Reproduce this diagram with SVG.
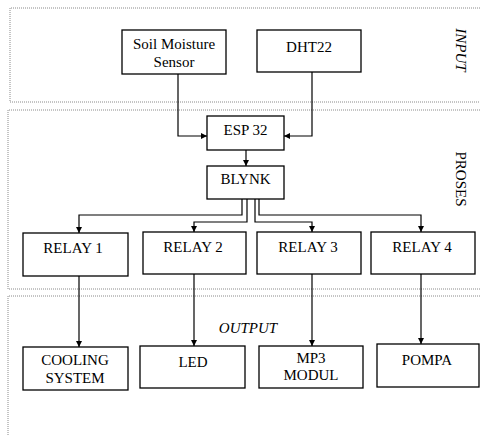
<svg xmlns="http://www.w3.org/2000/svg" width="480" height="436" viewBox="0 0 480 436">
<defs>
<style>
.zone{fill:none;stroke:#8a8a8a;stroke-width:1;stroke-dasharray:1 1}
.box{fill:#fff;stroke:#000;stroke-width:1.3}
.c{fill:none;stroke:#000;stroke-width:1.2}
</style>
<marker id="ah" viewBox="0 0 10 10" refX="10" refY="5" markerWidth="6" markerHeight="6" markerUnits="userSpaceOnUse" orient="auto">
<path d="M0,0 L10,5 L0,10 Z" fill="#000"/>
</marker>
</defs>
<rect width="480" height="436" fill="#fff"/>
<g id="zones">
<path class="zone" d="M490,8 H10 V102 H490"/>
<path class="zone" d="M490,110 H8 V289 H490"/>
<path class="zone" d="M490,296 H8 V440"/>
</g>
<g id="connectors">
<path class="c" d="M178,74 V136 H207" marker-end="url(#ah)"/>
<path class="c" d="M312,72 V136 H284" marker-end="url(#ah)"/>
<path class="c" d="M246,150 V166" marker-end="url(#ah)"/>
<path class="c" d="M242,199 V215 H79 V233" marker-end="url(#ah)"/>
<path class="c" d="M247,199 V222 H194 V232" marker-end="url(#ah)"/>
<path class="c" d="M255,199 V222 H312 V232" marker-end="url(#ah)"/>
<path class="c" d="M259,199 V215 H421 V232" marker-end="url(#ah)"/>
<path class="c" d="M79,276 V347" marker-end="url(#ah)"/>
<path class="c" d="M194,274 V346" marker-end="url(#ah)"/>
<path class="c" d="M312,274 V346" marker-end="url(#ah)"/>
<path class="c" d="M421,274 V344" marker-end="url(#ah)"/>
</g>
<g font-family="Liberation Serif, serif" font-size="15" text-anchor="middle" fill="#000">
<g id="labels">
<text font-style="italic" transform="translate(456,50) rotate(90)">INPUT</text>
<text transform="translate(456,179) rotate(90)">PROSES</text>
<text font-style="italic" x="248" y="333">OUTPUT</text>
</g>
<g id="soil"><rect class="box" x="122" y="30" width="104" height="44"/><text x="174" y="49">Soil Moisture</text><text x="174" y="67">Sensor</text></g>
<g id="dht22"><rect class="box" x="257" y="30" width="104" height="42"/><text x="309" y="52">DHT22</text></g>
<g id="esp32"><rect class="box" x="207" y="116" width="77" height="34"/><text x="245.5" y="135">ESP 32</text></g>
<g id="blynk"><rect class="box" x="207" y="166" width="77" height="33"/><text x="245.5" y="184">BLYNK</text></g>
<g id="relay1"><rect class="box" x="23" y="233" width="105" height="43"/><text x="73" y="253">RELAY 1</text></g>
<g id="relay2"><rect class="box" x="143" y="232" width="103" height="42"/><text x="193" y="252">RELAY 2</text></g>
<g id="relay3"><rect class="box" x="257" y="232" width="104" height="42"/><text x="308" y="252">RELAY 3</text></g>
<g id="relay4"><rect class="box" x="371" y="232" width="104" height="42"/><text x="422" y="252">RELAY 4</text></g>
<g id="cooling"><rect class="box" x="23" y="347" width="105" height="43"/><text x="75" y="365">COOLING</text><text x="75" y="383">SYSTEM</text></g>
<g id="led"><rect class="box" x="140" y="346" width="105" height="42"/><text x="193" y="367">LED</text></g>
<g id="mp3"><rect class="box" x="259" y="346" width="104" height="42"/><text x="311" y="363">MP3</text><text x="311" y="380">MODUL</text></g>
<g id="pompa"><rect class="box" x="377" y="344" width="102" height="43"/><text x="427" y="365">POMPA</text></g>
</g>
</svg>
